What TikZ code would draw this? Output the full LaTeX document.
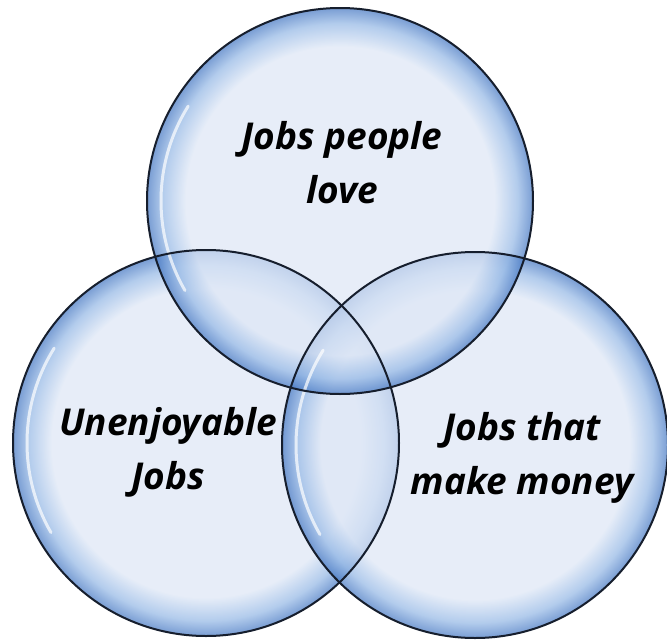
\documentclass[tikz,border=0pt]{standalone}
\usepackage{fontspec}
\setmainfont{Open Sans}
\definecolor{bin}{RGB}{222,231,246}
\definecolor{bmid}{RGB}{150,185,230}
\definecolor{bedge}{RGB}{70,120,195}
\definecolor{bline}{RGB}{22,30,45}
\pgfdeclareradialshading{bubble}{\pgfpoint{0bp}{0bp}}{%
  color(0bp)=(bin); color(20bp)=(bin); color(23bp)=(bmid); color(25bp)=(bedge); color(50bp)=(bedge)}
\begin{document}
\begin{tikzpicture}[x=1pt,y=-1pt,
  bubble/.style={shading=bubble, opacity=0.72},
  rim/.style={draw=bline, line width=2pt},
  gloss/.style={draw=white, line width=3pt, opacity=0.7, line cap=round},
  lbl/.style={font=\fontsize{37}{54}\selectfont\bfseries\itshape, align=center, text=black}]
\useasboundingbox (0,0) rectangle (667,640);
\fill[white] (0,0) rectangle (667,640);
\coordinate (ct) at (340,201);
\coordinate (cl) at (206,443);
\coordinate (cr) at (475,445);
\def\R{193}
\def\Rg{179}
% fills
\shade[bubble] (cl) circle[radius=\R];
\shade[bubble] (cr) circle[radius=\R];
\shade[bubble] (ct) circle[radius=\R];
% gloss highlights
\foreach \c in {ct,cl,cr}{
  \draw[gloss] (\c) ++(150:\Rg) arc[start angle=150, end angle=212, radius=\Rg];
}
% outlines
\draw[rim] (cl) circle[radius=\R];
\draw[rim] (cr) circle[radius=\R];
\draw[rim] (ct) circle[radius=\R];
% labels
\node[lbl] (t) at (342,163) {Jobs people\\love};
\node[lbl] (l) at (168,452) {Unenjoyable\\Jobs};
\node[lbl] (r) at (522,458) {Jobs that\\make money};
\end{tikzpicture}
\end{document}
